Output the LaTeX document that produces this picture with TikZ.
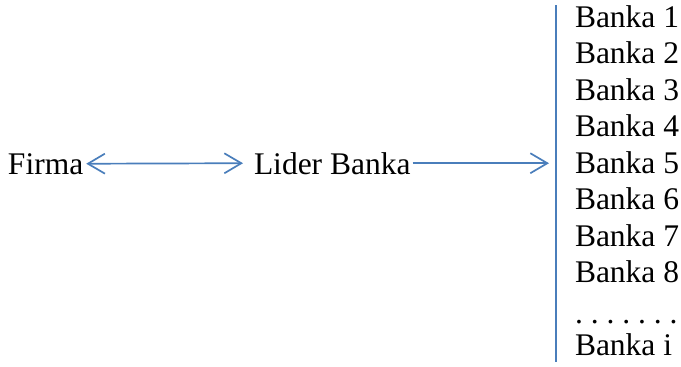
\documentclass[tikz,border=0pt]{standalone}
\usepackage{fontspec}
\setmainfont{Liberation Serif}
\usetikzlibrary{arrows.meta}
\definecolor{linkblue}{HTML}{4A7EBB}
\tikzset{
  lbl/.style={anchor=base west, inner sep=0pt, outer sep=0pt, font=\fontsize{31.5}{36}\selectfont\frenchspacing},
  conn/.style={draw=linkblue, line width=1.7pt},
  barb/.style={-{Straight Barb[length=17pt, width=20pt, line width=1.7pt]}},
  dbarb/.style={{Straight Barb[length=17pt, width=20pt, line width=1.7pt]}-{Straight Barb[length=17pt, width=20pt, line width=1.7pt]}}
}
\begin{document}
\begin{tikzpicture}[x=1pt, y=-1pt]
\useasboundingbox (0,0) rectangle (681,367);
\node[lbl] (firma) at (8,174) {Firma};
\node[lbl] (lider) at (254,174) {Lider Banka};
\node[lbl] (b1) at (575,27) {Banka 1};
\node[lbl] (b2) at (575,63.5) {Banka 2};
\node[lbl] (b3) at (575,100) {Banka 3};
\node[lbl] (b4) at (575,136.5) {Banka 4};
\node[lbl] (b5) at (575,173) {Banka 5};
\node[lbl] (b6) at (575,209.5) {Banka 6};
\node[lbl] (b7) at (575,246) {Banka 7};
\node[lbl] (b8) at (575,282.5) {Banka 8};
\node[lbl] (dots) at (575,323) {. . . . . . .};
\node[lbl] (bi) at (575,355) {Banka i};
\coordinate (vtop) at (556,5);
\coordinate (vbot) at (556,362);
\coordinate (tip) at (549,162);
\draw[conn] (vtop) -- (vbot);
\draw[conn, dbarb] ([xshift=3pt]firma.east) -- ([xshift=-11pt]lider.west);
\draw[conn, barb] ([xshift=2pt]lider.east) -- (lider.east -| tip);
\end{tikzpicture}
\end{document}
